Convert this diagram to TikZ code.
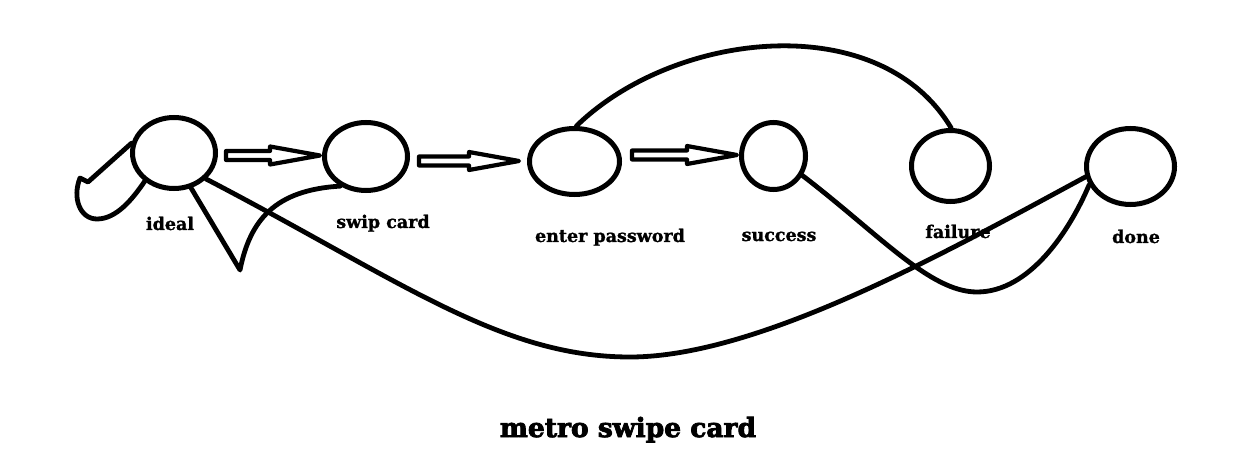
\documentclass[tikz,border=0pt]{standalone}
\usepackage{fontspec}
\setmainfont{DejaVu Serif}
\newfontfamily\lblfont{DejaVu Serif Bold}[FakeBold=1.2]
\newfontfamily\titlefont{DejaVu Serif Bold}[FakeBold=3]
\usetikzlibrary{shapes.geometric,calc}
\tikzset{
  state/.style={ellipse,draw=black,line width=5pt,inner sep=0pt},
  lbl/.style={anchor=base,font=\lblfont\fontsize{17.5}{20}\selectfont,inner sep=0pt},
  ttl/.style={anchor=base,font=\titlefont\fontsize{26.5}{30}\selectfont,inner sep=0pt},
  wire/.style={draw=black,line width=4.8pt,line cap=round,line join=round},
  hollow/.style={draw=black,line width=4.2pt,line join=round}
}
\newcommand\blockarr[2]{%
  \draw[hollow] ($#1+(0,-4.5)$) -- ($#2+(-50,-4.5)$) -- ($#2+(-50,-9)$) -- #2
    -- ($#2+(-50,9)$) -- ($#2+(-50,4.5)$) -- ($#1+(0,4.5)$) -- cycle;}
\begin{document}
\begin{tikzpicture}[x=1pt,y=-1pt]
\fill[white] (0,0) rectangle (1233,454);
\useasboundingbox (0,0) rectangle (1233,454);
% states
\node[state,minimum width=83pt,minimum height=71pt] (ideal) at (174,153) {};
\node[state,minimum width=83pt,minimum height=68pt] (swip) at (366,156.5) {};
\node[state,minimum width=90pt,minimum height=66pt] (enter) at (574.5,161.5) {};
\node[state,minimum width=64pt,minimum height=67pt] (success) at (773.5,156) {};
\node[state,minimum width=78pt,minimum height=71pt] (failure) at (950.5,166) {};
\node[state,minimum width=88pt,minimum height=76pt] (done) at (1130.5,166.5) {};
% labels
\node[lbl] (lideal) at (170,230) {ideal};
\node[lbl] (lswip) at (383,228) {swip card};
\node[lbl] (lenter) at (610,242) {enter password};
\node[lbl] (lsuccess) at (779,241) {success};
\node[lbl] (lfailure) at (958,238) {failure};
\node[lbl] (ldone) at (1136,243) {done};
\node[ttl] (title) at (628,437) {metro swipe card};
% hollow arrows
\blockarr{($(ideal.east)+(8,2.5)$)}{($(swip.west)+(-2,-1)$)}
\blockarr{($(swip.east)+(9,4.5)$)}{($(enter.west)+(-8,-0.5)$)}
\blockarr{($(enter.east)+(10,-6.5)$)}{($(success.west)+(-2,-1)$)}
% self loop on ideal
\coordinate (lp) at (80,178);
\draw[wire] (ideal.167) -- (88,182) -- (lp)
  .. controls (72,198) and (80,219) .. (97,219)
  .. controls (116,219) and (132,200) .. (ideal.224);
% ideal -> swip card (V shaped)
\coordinate (vb) at (240,270);
\draw[wire] (ideal.-64) -- (vb) .. controls (250,220) and (275,190) .. (swip.229);
% big curve ideal -> done
\coordinate (bb) at (630,357);
\draw[wire] (ideal.-39) .. controls (400,280) and (500,357) .. (bb)
  .. controls (760,357) and (950,250) .. (done.193);
% arc enter password -> failure
\draw[wire] (enter.87) .. controls (675,30) and (880,8) .. (failure.89);
% success -> done
\coordinate (sb) at (977,292);
\draw[wire] (success.-34) .. controls (880,235) and (930,292) .. (sb)
  .. controls (1030,292) and (1070,230) .. (done.204);
\end{tikzpicture}
\end{document}
